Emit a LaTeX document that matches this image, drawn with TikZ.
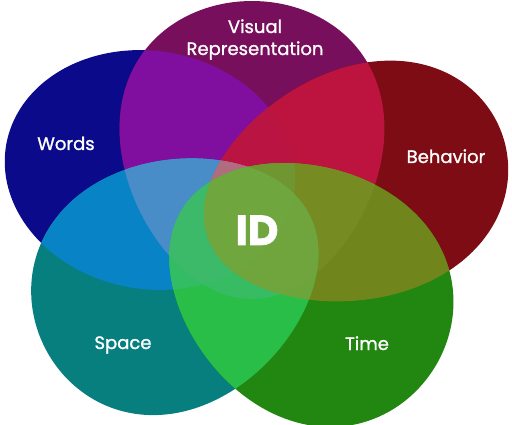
\documentclass[tikz,border=0pt]{standalone}
\usepackage{fontspec}
\setmainfont{Poppins}
\newfontfamily\lblfont[FakeBold=1.2]{Poppins}
\newfontfamily\idfont[FakeBold=1.5]{Poppins}
\definecolor{cW}{RGB}{10,10,138}
\definecolor{cV}{RGB}{120,15,92}
\definecolor{cB}{RGB}{126,12,20}
\definecolor{cS}{RGB}{8,127,127}
\definecolor{cT}{RGB}{34,135,16}
\definecolor{cWV}{RGB}{128,15,160}
\definecolor{cWB}{RGB}{160,15,110}
\definecolor{cWS}{RGB}{8,132,198}
\definecolor{cWT}{RGB}{40,150,120}
\definecolor{cVB}{RGB}{188,20,62}
\definecolor{cVS}{RGB}{70,138,195}
\definecolor{cVT}{RGB}{90,160,80}
\definecolor{cBS}{RGB}{150,90,100}
\definecolor{cBT}{RGB}{112,134,28}
\definecolor{cST}{RGB}{40,190,72}
\definecolor{cWVB}{RGB}{186,20,66}
\definecolor{cWVS}{RGB}{72,140,200}
\definecolor{cWVT}{RGB}{60,182,105}
\definecolor{cWBS}{RGB}{170,100,120}
\definecolor{cWBT}{RGB}{110,150,50}
\definecolor{cWST}{RGB}{50,188,100}
\definecolor{cVBS}{RGB}{178,105,125}
\definecolor{cVBT}{RGB}{118,140,34}
\definecolor{cVST}{RGB}{55,188,100}
\definecolor{cBST}{RGB}{108,165,60}
\definecolor{cWVBS}{RGB}{178,108,128}
\definecolor{cWVBT}{RGB}{112,150,50}
\definecolor{cWVST}{RGB}{60,185,105}
\definecolor{cWBST}{RGB}{112,165,62}
\definecolor{cVBST}{RGB}{112,165,62}
\definecolor{cWVBST}{RGB}{112,166,62}
% egg: centre x, centre y, rotation (narrow end direction), a, b, narrowing
\newcommand\egg[6]{plot[smooth cycle, domain=0:355, samples=72] ({#1 + #4*cos(\x)*cos(#3) - #5*sin(\x)*(1-#6*cos(\x))*sin(#3)}, {#2 + #4*cos(\x)*sin(#3) + #5*sin(\x)*(1-#6*cos(\x))*cos(#3)})}
\def\shW{\egg{150}{170}{10}{146}{119}{0.0}}
\def\shV{\egg{252}{150}{90}{149}{131}{0.15}}
\def\shB{\egg{355}{186}{160.8}{156}{115}{0.12}}
\def\shS{\egg{177}{281}{-26}{148}{123}{0.12}}
\def\shT{\egg{308}{289}{213}{149}{124}{0.12}}
\newcommand\RgBB[3]{\begin{scope}\clip #2;\clip #3;\fill[#1] (0,0) rectangle (512,425);\end{scope}}
\newcommand\RgC[4]{\begin{scope}\clip #2;\clip #3;\clip #4;\fill[#1] (0,0) rectangle (512,425);\end{scope}}
\newcommand\RgD[5]{\begin{scope}\clip #2;\clip #3;\clip #4;\clip #5;\fill[#1] (0,0) rectangle (512,425);\end{scope}}
\newcommand\RgE[6]{\begin{scope}\clip #2;\clip #3;\clip #4;\clip #5;\clip #6;\fill[#1] (0,0) rectangle (512,425);\end{scope}}
\tikzset{lbl/.style={text=white, font=\lblfont\fontsize{18}{22}\selectfont, inner sep=0pt, anchor=base},
  idlbl/.style={text=white, font=\idfont\fontsize{42}{46}\selectfont\bfseries, inner sep=0pt, anchor=base}}
\begin{document}
\begin{tikzpicture}[x=1pt,y=-1pt]
\useasboundingbox (0,0) rectangle (512,425);
% single shapes
\fill[cW] \shW;
\fill[cV] \shV;
\fill[cB] \shB;
\fill[cS] \shS;
\fill[cT] \shT;
% pairs
\RgBB{cWV}{\shW}{\shV}
\RgBB{cWB}{\shW}{\shB}
\RgBB{cWS}{\shW}{\shS}
\RgBB{cWT}{\shW}{\shT}
\RgBB{cVB}{\shV}{\shB}
\RgBB{cVS}{\shV}{\shS}
\RgBB{cVT}{\shV}{\shT}
\RgBB{cBS}{\shB}{\shS}
\RgBB{cBT}{\shB}{\shT}
\RgBB{cST}{\shS}{\shT}
% triples
\RgC{cWVB}{\shW}{\shV}{\shB}
\RgC{cWVS}{\shW}{\shV}{\shS}
\RgC{cWVT}{\shW}{\shV}{\shT}
\RgC{cWBS}{\shW}{\shB}{\shS}
\RgC{cWBT}{\shW}{\shB}{\shT}
\RgC{cWST}{\shW}{\shS}{\shT}
\RgC{cVBS}{\shV}{\shB}{\shS}
\RgC{cVBT}{\shV}{\shB}{\shT}
\RgC{cVST}{\shV}{\shS}{\shT}
\RgC{cBST}{\shB}{\shS}{\shT}
% quadruples
\RgD{cWVBS}{\shW}{\shV}{\shB}{\shS}
\RgD{cWVBT}{\shW}{\shV}{\shB}{\shT}
\RgD{cWVST}{\shW}{\shV}{\shS}{\shT}
\RgD{cWBST}{\shW}{\shB}{\shS}{\shT}
\RgD{cVBST}{\shV}{\shB}{\shS}{\shT}
\RgE{cWVBST}{\shW}{\shV}{\shB}{\shS}{\shT}
% labels
\node[lbl] (vis1) at (255,33) {Visual};
\node[lbl] (vis2) at (255,55) {Representation};
\node[lbl] (words) at (66,150) {Words};
\node[lbl] (beh) at (446,163) {Behavior};
\node[lbl] (space) at (123,349) {Space};
\node[lbl] (time) at (367,350) {Time};
\node[idlbl] (id) at (257,245) {ID};
\end{tikzpicture}
\end{document}
